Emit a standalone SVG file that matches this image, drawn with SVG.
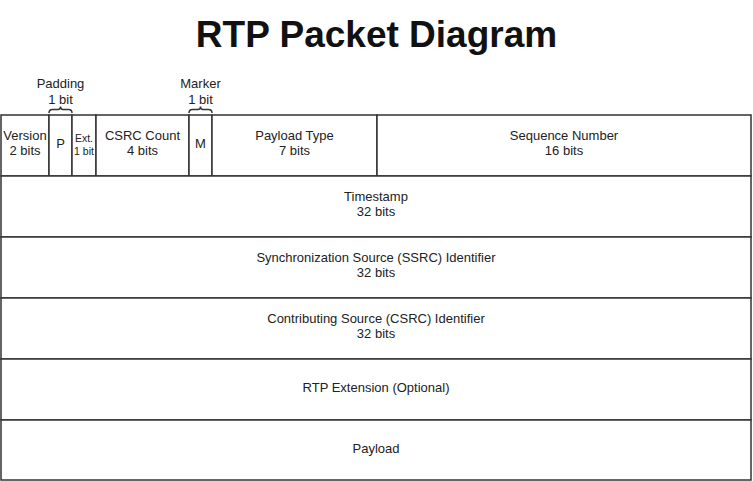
<svg xmlns="http://www.w3.org/2000/svg" width="753" height="481" viewBox="0 0 753 481">
<style>
.box{fill:#fff;stroke:#333;stroke-width:1.5}
.ln{stroke:#333;stroke-width:1.5;fill:none}
.t{font-family:"Liberation Sans",Arial,sans-serif;font-size:13px;fill:#222;text-anchor:middle}
.s{font-size:10.5px}
.title{font-family:"Liberation Sans",Arial,sans-serif;font-size:37px;font-weight:bold;fill:#111;text-anchor:middle}
</style>
<rect width="753" height="481" fill="#fff"/>
<text class="title" x="376.5" y="47">RTP Packet Diagram</text>
<g id="padding-label">
<text class="t" x="60.5" y="88">Padding</text>
<text class="t" x="60.5" y="104">1 bit</text>
</g>
<g id="marker-label">
<text class="t" x="200.5" y="88">Marker</text>
<text class="t" x="200.5" y="104">1 bit</text>
</g>
<g id="connectors">
<path class="ln" d="M49,113 Q49,109.5 52.5,109.5 L58,109.5 Q60.5,109.5 60.5,106.5 Q60.5,109.5 63,109.5 L68.5,109.5 Q72,109.5 72,113"/>
<path class="ln" d="M189,113 Q189,109.5 192.5,109.5 L198,109.5 Q200.5,109.5 200.5,106.5 Q200.5,109.5 203,109.5 L208.5,109.5 Q212,109.5 212,113"/>
</g>
<g id="version"><rect class="box" x="1" y="115" width="48" height="61"/><text class="t" x="25" y="139.5">Version</text><text class="t" x="25" y="155">2 bits</text></g>
<g id="p"><rect class="box" x="49" y="115" width="23" height="61"/><text class="t" x="60.5" y="147.5">P</text></g>
<g id="ext"><rect class="box" x="72" y="115" width="24" height="61"/><text class="t s" x="84" y="141.5">Ext.</text><text class="t s" x="84" y="155">1 bit</text></g>
<g id="csrc-count"><rect class="box" x="96" y="115" width="93" height="61"/><text class="t" x="142.5" y="139.5">CSRC Count</text><text class="t" x="142.5" y="155">4 bits</text></g>
<g id="m"><rect class="box" x="189" y="115" width="23" height="61"/><text class="t" x="200.5" y="147.5">M</text></g>
<g id="payload-type"><rect class="box" x="212" y="115" width="165" height="61"/><text class="t" x="294.5" y="139.5">Payload Type</text><text class="t" x="294.5" y="155">7 bits</text></g>
<g id="sequence-number"><rect class="box" x="377" y="115" width="374" height="61"/><text class="t" x="564" y="139.5">Sequence Number</text><text class="t" x="564" y="155">16 bits</text></g>
<g id="timestamp"><rect class="box" x="1" y="176" width="750" height="61"/><text class="t" x="376" y="200.5">Timestamp</text><text class="t" x="376" y="216">32 bits</text></g>
<g id="ssrc"><rect class="box" x="1" y="237" width="750" height="61"/><text class="t" x="376" y="261.5">Synchronization Source (SSRC) Identifier</text><text class="t" x="376" y="277">32 bits</text></g>
<g id="csrc"><rect class="box" x="1" y="298" width="750" height="61"/><text class="t" x="376" y="322.5">Contributing Source (CSRC) Identifier</text><text class="t" x="376" y="338">32 bits</text></g>
<g id="extension"><rect class="box" x="1" y="359" width="750" height="61"/><text class="t" x="376" y="392">RTP Extension (Optional)</text></g>
<g id="payload"><rect class="box" x="1" y="420" width="750" height="60"/><text class="t" x="376" y="453">Payload</text></g>
</svg>
